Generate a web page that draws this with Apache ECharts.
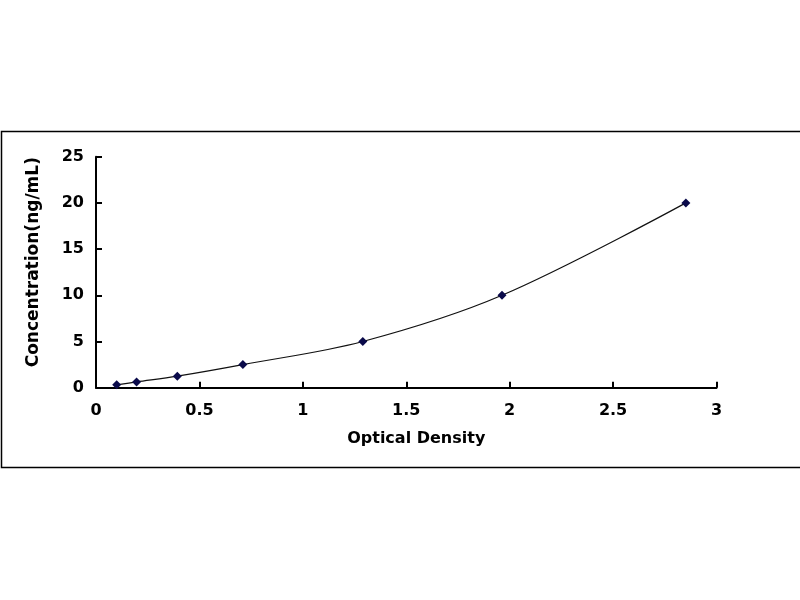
<!DOCTYPE html>
<html>
<head>
<meta charset="utf-8">
<script src="https://cdn.jsdelivr.net/npm/echarts@6/dist/echarts.min.js"></script>
<style>
    html, body { margin: 0; padding: 0; background: #fff; }
    #chart { width: 800px; height: 600px; }
</style>
</head>
<body>
<div id="chart"></div>
<script>
// standard curve: optical density vs concentration
var opticalDensity = [0.100, 0.196, 0.393, 0.710, 1.290, 1.963, 2.852];
var concentration = [0.312, 0.625, 1.25, 2.5, 5, 10, 20];

var points = [];
for (var i = 0; i < opticalDensity.length; i++) {
    points.push([opticalDensity[i], concentration[i]]);
}

var font = 'DejaVu Sans';

var chart = echarts.init(document.getElementById('chart'), null, {renderer: 'canvas'});
chart.setOption({
    backgroundColor: '#fff',
    animation: false,
    grid: {
        left: 96,
        right: 83.5,
        top: 156.7,
        bottom: 212.3
    },
    xAxis: {
        type: 'value',
        min: 0,
        max: 3,
        interval: 0.5,
        name: 'Optical Density',
        nameLocation: 'middle',
        nameGap: 43,
        nameTextStyle: {
            fontFamily: font,
            fontWeight: 'bold',
            fontSize: 16,
            color: '#000',
            padding: [0, 0, 0, 20]
        },
        axisLine: {lineStyle: {color: '#000', width: 2}},
        axisTick: {inside: true, length: 6, lineStyle: {color: '#000', width: 2}},
        axisLabel: {
            fontFamily: font,
            fontWeight: 'bold',
            fontSize: 16,
            color: '#000',
            margin: 15,
            formatter: function (v) { return String(v); }
        },
        splitLine: {show: false}
    },
    yAxis: {
        type: 'value',
        min: 0,
        max: 25,
        interval: 5,
        name: 'Concentration(ng/mL)',
        nameLocation: 'middle',
        nameGap: 54,
        nameRotate: 90,
        nameTextStyle: {
            fontFamily: font,
            fontWeight: 'bold',
            fontSize: 17,
            color: '#000',
            padding: [0, 0, 0, 20]
        },
        axisLine: {show: true, lineStyle: {color: '#000', width: 2}},
        axisTick: {show: true, inside: true, length: 6, lineStyle: {color: '#000', width: 2}},
        axisLabel: {
            fontFamily: font,
            fontWeight: 'bold',
            fontSize: 16,
            color: '#000',
            margin: 12
        },
        splitLine: {show: false}
    },
    graphic: [
        {
            type: 'polyline',
            silent: true,
            shape: {points: [[802, 131.5], [1.5, 131.5], [1.5, 467.5], [802, 467.5]]},
            style: {fill: null, stroke: '#000', lineWidth: 1.5}
        }
    ],
    series: [
        {
            type: 'line',
            data: points,
            smooth: 0.35,
            symbol: 'diamond',
            symbolSize: 9,
            itemStyle: {color: '#0a0a4a'},
            lineStyle: {color: '#111', width: 1.2}
        }
    ]
});
</script>
</body>
</html>
